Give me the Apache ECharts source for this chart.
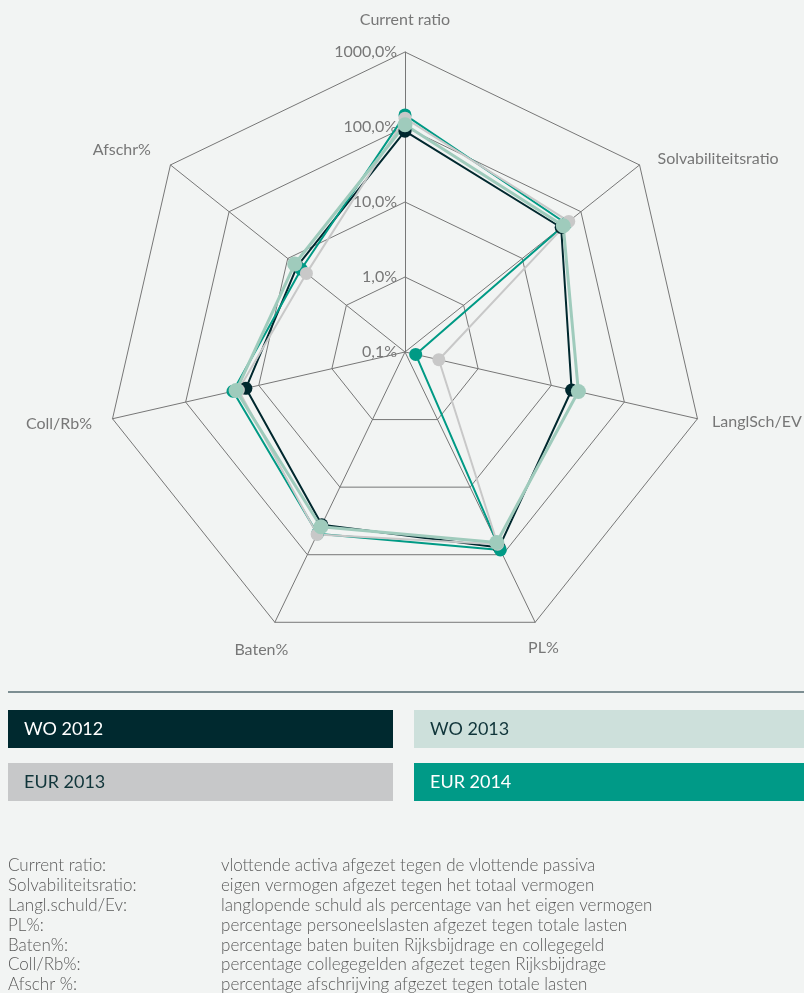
<!DOCTYPE html>
<html>
<head>
<meta charset="utf-8">
<title>Financiële kengetallen</title>
<script src="https://cdn.jsdelivr.net/npm/echarts@6/dist/echarts.min.js"></script>
<style>
  html, body { margin: 0; padding: 0; background: #f2f4f3; }
  #main { width: 804px; height: 993px; }
</style>
</head>
<body>
<div id="main"></div>
<script>
// indicators, counter-clockwise from the top (echarts radar order)
const indicators = ["Current ratio", "Afschr%", "Coll/Rb%", "Baten%", "PL%", "LanglSch/EV", "Solvabiliteitsratio"];
// name placement per indicator: [align, verticalAlign, gap]
const nameLayout = [
  ["center", "middle", 32],
  ["right", "middle", 25],
  ["right", "middle", 21],
  ["center", "middle", 31],
  ["center", "top", 19],
  ["left", "middle", 15],
  ["left", "top", 23]
];

// values in % (log scale 0,1% .. 1000%)
const wo2012 = [88, 6.9, 15, 36, 78, 19, 46];
const wo2013 = [107, 7.6, 20.4, 38.5, 66, 23.5, 50];
const eur2013 = [131, 4.8, 19, 50, 70, 0.29, 62];
const eur2014 = [145, 5.9, 22.5, 49, 85, 0.14, 56];

const seriesNames = ["WO 2012", "WO 2013", "EUR 2013", "EUR 2014"];
const lineColors = ["#00282e", "#9fcbbc", "#c8c8c8", "#009a85"];
const boxColors = ["#00292f", "#cde0db", "#c7c8c9", "#009a87"];
const boxText = ["#ffffff", "#10353a", "#10353a", "#ffffff"];

const defTerms = ["Current ratio:", "Solvabiliteitsratio:", "Langl.schuld/Ev:", "PL%:", "Baten%:", "Coll/Rb%:", "Afschr %:"];
const defTexts = [
  "vlottende activa afgezet tegen de vlottende passiva",
  "eigen vermogen afgezet tegen het totaal vermogen",
  "langlopende schuld als percentage van het eigen vermogen",
  "percentage personeelslasten afgezet tegen totale lasten",
  "percentage baten buiten Rijksbijdrage en collegegeld",
  "percentage collegegelden afgezet tegen Rijksbijdrage",
  "percentage afschrijving afgezet tegen totale lasten"
];

const FONT = "Lato, 'Open Sans', sans-serif";
const chart = echarts.init(document.getElementById("main"));

function fmtPct(v) {
  return Math.pow(10, v).toFixed(1).replace(".", ",") + "%";
}

const allData = [wo2012, wo2013, eur2013, eur2014];
// draw order: dark, teal, gray, green on top
const drawOrder = [0, 3, 2, 1];

const series = drawOrder.map(function (i) {
  return {
    name: seriesNames[i],
    type: "radar",
    symbol: "circle",
    symbolSize: i === 1 ? 15 : 13,
    lineStyle: { color: lineColors[i], width: i === 1 ? 3 : 2 },
    itemStyle: { color: lineColors[i] },
    data: [{ value: allData[i].map(function (v) { return Math.log10(v); }), name: seriesNames[i] }]
  };
});

// legend boxes + separator + definitions
const graphics = [];
graphics.push({
  type: "line",
  shape: { x1: 8, y1: 692, x2: 804, y2: 692 },
  style: { stroke: "#7d8e92", lineWidth: 2 }
});
seriesNames.forEach(function (name, i) {
  const col = i % 2, row = Math.floor(i / 2);
  const x = col === 0 ? 8 : 414;
  const y = row === 0 ? 710 : 763;
  graphics.push({
    type: "group",
    children: [
      { type: "rect", shape: { x: x, y: y, width: col === 0 ? 385 : 390, height: 38 }, style: { fill: boxColors[i] } },
      { type: "text", x: x + 16, y: y + 19, style: { text: name, fill: boxText[i], font: "18px " + FONT, textVerticalAlign: "middle" } }
    ]
  });
});
defTerms.forEach(function (t, i) {
  const y = 866 + i * 19.8;
  graphics.push({ type: "text", x: 8, y: y, style: { text: t, fill: "#5a5a5a", font: "300 17px " + FONT, textVerticalAlign: "middle" } });
  graphics.push({ type: "text", x: 221, y: y, style: { text: defTexts[i], fill: "#5a5a5a", font: "300 17px " + FONT, textVerticalAlign: "middle" } });
});

const option = {
  backgroundColor: "#f2f4f3",
  textStyle: { fontFamily: FONT },
  animation: false,
  radar: {
    center: [405, 352],
    radius: 300,
    startAngle: 90,
    splitNumber: 4,
    shape: "polygon",
    nameGap: 20,
    axisName: { color: "#777", fontSize: 16, fontFamily: FONT },
    axisLine: { lineStyle: { color: "#777", width: 1 } },
    splitLine: { lineStyle: { color: "#777", width: 1 } },
    splitArea: { show: false },
    axisLabel: { show: false },
    indicator: indicators.map(function (n, i) {
      const ind = {
        name: n, min: -1, max: 3,
        nameGap: nameLayout[i][2],
        nameTextStyle: { align: nameLayout[i][0], verticalAlign: nameLayout[i][1] }
      };
      if (i === 0) {
        ind.axisLabel = { show: true, color: "#777", fontSize: 16, fontFamily: FONT, margin: 8, formatter: fmtPct };
      }
      return ind;
    })
  },
  series: series,
  graphic: graphics
};

chart.setOption(option);
</script>
</body>
</html>
